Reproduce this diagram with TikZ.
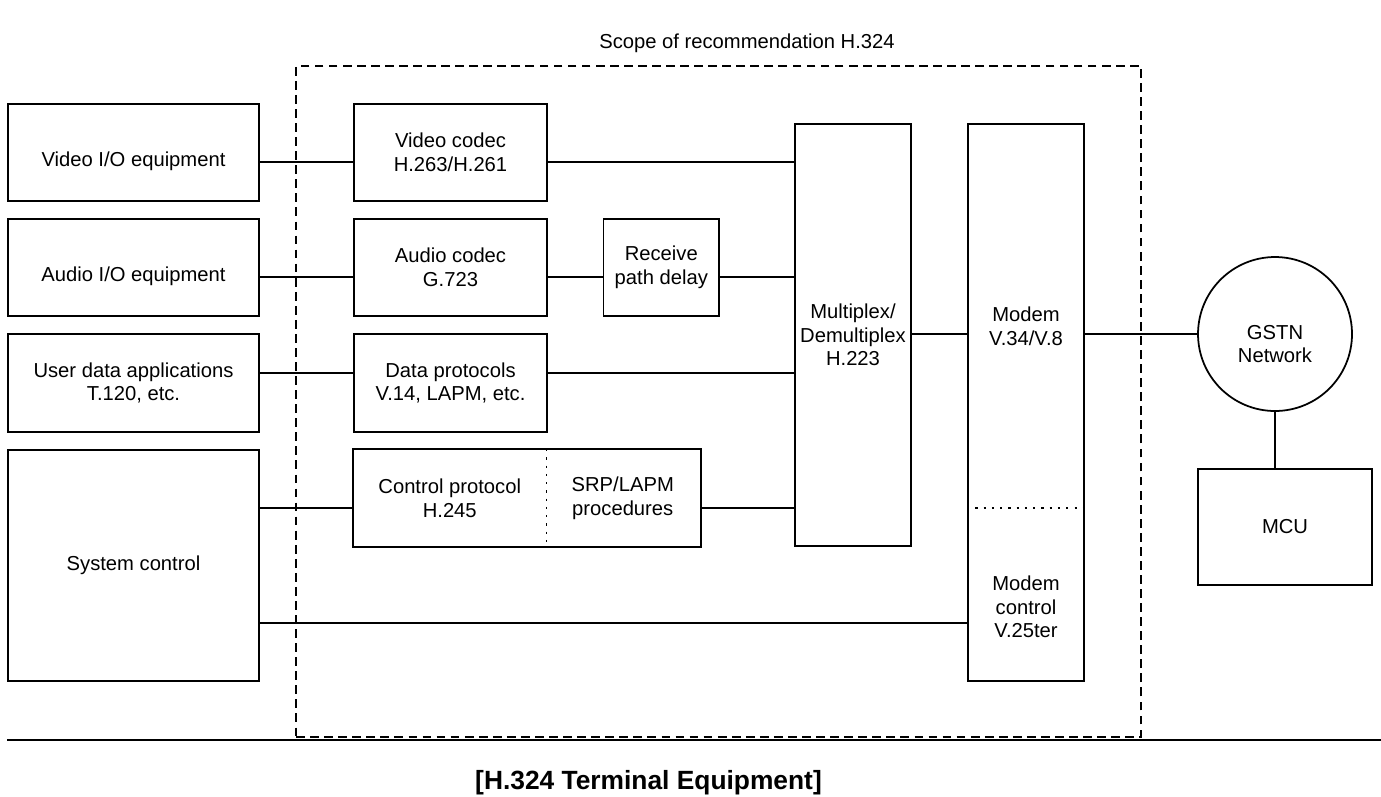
\documentclass[tikz,border=0pt]{standalone}
\usepackage{fontspec}
\setmainfont{Liberation Sans}

\begin{document}
\begin{tikzpicture}[
     x=0.02cm, y=-0.02cm,
     % define styles
     unit/.style={
         draw,
         line width=1pt,
         align=center,
         inner sep=2pt,
         font=\fontsize{11.5}{13.5}\selectfont
     },
     bare/.style={
         unit,
         draw=none
     },
     low/.style={
         text height=18pt,
         text depth=2pt
     },
     link/.style={
         line width=1pt
     },
     border/.style={
         draw,
         line width=0.8pt,
         dash pattern=on 5pt off 3pt
     },
     divider/.style={
         line width=0.8pt,
         dash pattern=on 1.2pt off 3.5pt
     }
]
\useasboundingbox (0,0) rectangle (1381,796);

% scope of the recommendation
\node[border, minimum width=16.9cm, minimum height=13.42cm] (scopebox) at (718.5,401.5) {};
\node[bare] (scopelabel) at (747,43) {Scope of recommendation H.324};

% equipment on the left
\node[unit, low, minimum width=5.02cm, minimum height=1.94cm] (vidio) at (133.5,152.5) {Video I/O equipment};
\node[unit, low, minimum width=5.02cm, minimum height=1.94cm] (audio) at (133.5,267.5) {Audio I/O equipment};
\node[unit, minimum width=5.02cm, minimum height=1.96cm] (udata) at (133.5,383) {User data applications\\T.120, etc.};
\node[unit, minimum width=5.02cm, minimum height=4.62cm] (sysctl) at (133.5,565.5) {System control};

% codecs and protocols
\node[unit, minimum width=3.86cm, minimum height=1.94cm] (vcodec) at (450.5,152.5) {Video codec\\H.263/H.261};
\node[unit, minimum width=3.86cm, minimum height=1.94cm] (acodec) at (450.5,267.5) {Audio codec\\G.723};
\node[unit, minimum width=3.86cm, minimum height=1.96cm] (dprot) at (450.5,383) {Data protocols\\V.14, LAPM, etc.};
\node[unit, minimum width=2.31cm, minimum height=1.94cm] (delay) at (661.3,267.5) {Receive\\path delay};
\node[bare, minimum width=3.83cm, minimum height=1.92cm] (ctrlprot) at (449.75,498) {Control protocol\\H.245};
\node[bare, minimum width=3.09cm, minimum height=1.92cm] (srp) at (622.75,498) {SRP/LAPM\\procedures};
\draw[link] (ctrlprot.north west) rectangle (srp.south east);
\draw[divider] (ctrlprot.north east) -- (ctrlprot.south east);

% multiplex and modem
\node[unit, minimum width=2.32cm, minimum height=8.44cm] (mux) at (853,335) {Multiplex/\\Demultiplex\\H.223};
\node[unit, minimum width=2.32cm, minimum height=11.14cm] (modem) at (1026,402.5) {};
\node[bare] (modemtxt) at (1026,326) {Modem\\V.34/V.8};
\node[bare] (modemctl) at (1026,607) {Modem\\control\\V.25ter};

% network side
\node[unit, circle, minimum size=3.08cm] (gstn) at (1275,334) {};
\node[bare] (gstntxt) at (1275,344) {GSTN\\Network};
\node[unit, minimum width=3.48cm, minimum height=2.32cm] (mcu) at (1285,527) {MCU};

% rows of the connectors
\coordinate (vrow) at (0,162);
\coordinate (arow) at (0,277);
\coordinate (drow) at (0,373);
\coordinate (crow) at (0,508);
\coordinate (mrow) at (0,623);

\draw[divider] (modem.west |- crow) -- (modem.east |- crow);

\draw[link] (vidio.east |- vrow) -- (vcodec.west |- vrow);
\draw[link] (vcodec.east |- vrow) -- (mux.west |- vrow);
\draw[link] (audio.east |- arow) -- (acodec.west |- arow);
\draw[link] (acodec.east |- arow) -- (delay.west |- arow);
\draw[link] (delay.east |- arow) -- (mux.west |- arow);
\draw[link] (udata.east |- drow) -- (dprot.west |- drow);
\draw[link] (dprot.east |- drow) -- (mux.west |- drow);
\draw[link] (sysctl.east |- crow) -- (ctrlprot.west |- crow);
\draw[link] (srp.east |- crow) -- (mux.west |- crow);
\draw[link] (sysctl.east |- mrow) -- (modem.west |- mrow);
\draw[link] (mux.east |- gstn) -- (modem.west |- gstn);
\draw[link] (modem.east |- gstn) -- (gstn.west);
\draw[link] (gstn.south) -- (gstn.south |- mcu.north);

% base line and caption
\draw[link] (7,740) -- (1381,740);
\node[bare, font=\fontsize{15}{18}\selectfont\bfseries] (caption) at (648.5,783) {[H.324 Terminal Equipment]};
\end{tikzpicture}
\end{document}
